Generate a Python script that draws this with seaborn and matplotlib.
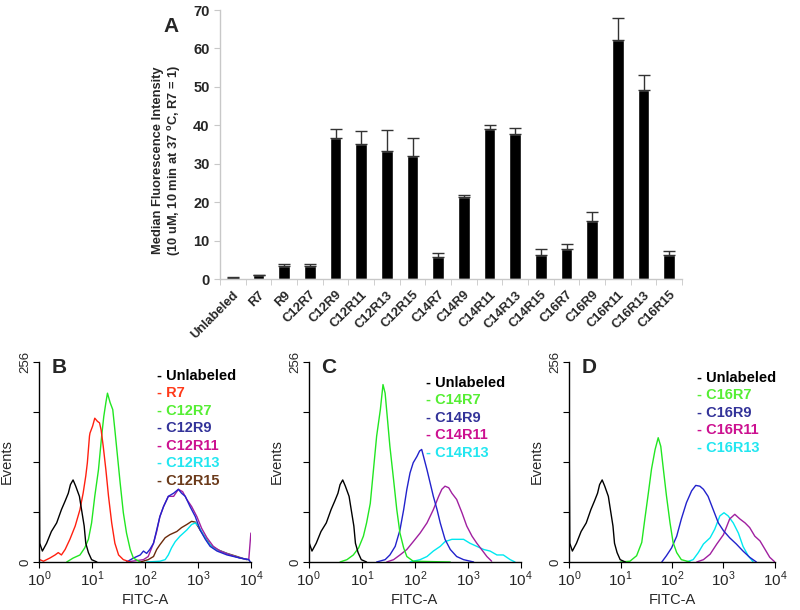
"""
Peptide uptake: median fluorescence bars (A) and flow cytometry histograms (B-D)
"""

import numpy as np
import pandas as pd
import matplotlib

matplotlib.use("Agg")
import matplotlib.pyplot as plt
import matplotlib.ticker as mticker
import seaborn as sns

# ---- panel A data ----
peptides = ['Unlabeled', 'R7', 'R9', 'C12R7', 'C12R9', 'C12R11', 'C12R13', 'C12R15',
            'C14R7', 'C14R9', 'C14R11', 'C14R13', 'C14R15', 'C16R7', 'C16R9',
            'C16R11', 'C16R13', 'C16R15']
mfi = [0.3, 1.0, 3.3, 3.3, 36.7, 35.2, 33.4, 32.0, 5.8, 21.3, 39.1, 37.7, 6.3, 7.8,
       15.0, 62.3, 49.1, 6.3]
mfi_err = [0.1, 0.1, 0.5, 0.5, 2.3, 3.4, 5.4, 4.7, 0.9, 0.5, 0.9, 1.6, 1.4, 1.4,
           2.4, 5.7, 4.1, 1.1]

# ---- histogram data: log10(FITC-A) and event counts ----
unl_log = [0.0, 0.0, 0.01, 0.06, 0.14, 0.23, 0.33, 0.42, 0.49, 0.55, 0.59, 0.64, 0.69,
           0.76, 0.80, 0.85, 0.88, 0.93, 0.99, 1.09]
unl_cnt = [0, 137, 24, 14, 24, 39, 50, 67, 78, 88, 99, 105, 97, 84, 67, 46, 24, 12, 3, 0]

b_r7_log = [0.01, 0.08, 0.20, 0.30, 0.36, 0.42, 0.49, 0.58, 0.68, 0.77, 0.83, 0.88, 0.91,
            0.95, 0.96, 1.01, 1.05, 1.10, 1.14, 1.17, 1.21, 1.26, 1.31, 1.37, 1.43, 1.50,
            1.59, 1.72]
b_r7_cnt = [3, 1, 5, 9, 12, 9, 16, 29, 46, 67, 88, 110, 127, 161, 165, 174, 184, 180, 178,
            169, 148, 118, 84, 50, 24, 9, 3, 0]
b_c12r7_log = [0.52, 0.64, 0.77, 0.86, 0.93, 0.99, 1.05, 1.12, 1.18, 1.22, 1.26, 1.29, 1.34,
               1.39, 1.43, 1.48, 1.53, 1.59, 1.65, 1.72, 1.78, 1.91]
b_c12r7_cnt = [0, 5, 9, 18, 29, 50, 84, 118, 161, 186, 204, 216, 204, 195, 169, 135, 101,
               63, 37, 16, 5, 0]
b_c12r9_log = [1.65, 1.78, 1.91, 1.97, 2.03, 2.09, 2.16, 2.22, 2.28, 2.35, 2.44, 2.54, 2.63,
               2.69, 2.76, 2.85, 2.95, 3.04, 3.14, 3.23, 3.36, 3.55, 3.80, 3.96, 3.99]
b_c12r9_cnt = [0, 5, 9, 14, 11, 16, 24, 41, 58, 71, 84, 88, 93, 88, 84, 71, 58, 41, 29, 20,
               14, 9, 5, 3, 0]
b_c12r11_log = [1.65, 1.97, 2.06, 2.16, 2.22, 2.28, 2.35, 2.44, 2.54, 2.63, 2.71, 2.79, 2.88,
                2.98, 3.07, 3.17, 3.29, 3.42, 3.61, 3.80, 3.96, 4.0]
b_c12r11_cnt = [0, 3, 7, 24, 39, 58, 71, 84, 84, 93, 90, 80, 71, 58, 43, 31, 20, 14, 9, 5,
                3, 37]
b_c12r13_log = [2.03, 2.28, 2.38, 2.44, 2.50, 2.57, 2.66, 2.79, 2.88, 2.95, 3.01, 3.10, 3.20,
                3.29, 3.42, 3.61, 3.80, 3.96]
b_c12r13_cnt = [0, 1, 3, 9, 18, 26, 33, 41, 48, 50, 46, 35, 24, 18, 14, 9, 5, 3]
b_c12r15_log = [1.91, 2.06, 2.16, 2.22, 2.28, 2.38, 2.47, 2.60, 2.69, 2.79, 2.88, 2.95, 3.04,
                3.14, 3.23, 3.36, 3.55, 3.74, 3.92]
b_c12r15_cnt = [0, 3, 7, 16, 22, 31, 35, 39, 44, 48, 52, 51, 41, 31, 22, 16, 11, 7, 3]

c_c14r7_log = [0.59, 0.72, 0.84, 0.94, 1.03, 1.09, 1.16, 1.22, 1.28, 1.35, 1.40, 1.44, 1.48,
               1.53, 1.60, 1.66, 1.72, 1.79, 1.85, 1.97, 2.67]
c_c14r7_cnt = [0, 3, 9, 18, 33, 50, 75, 118, 161, 195, 227, 216, 186, 148, 105, 67, 37, 18,
               7, 1, 0]
c_c14r9_log = [1.28, 1.44, 1.53, 1.63, 1.72, 1.79, 1.85, 1.91, 1.97, 2.04, 2.09, 2.13, 2.18,
               2.23, 2.29, 2.35, 2.42, 2.48, 2.57, 2.67, 2.79, 2.92, 3.11]
c_c14r9_cnt = [0, 3, 9, 20, 41, 67, 93, 114, 127, 135, 142, 144, 131, 118, 101, 84, 67, 50,
               29, 16, 7, 3, 0]
c_c14r11_log = [1.47, 1.60, 1.72, 1.85, 1.97, 2.10, 2.23, 2.35, 2.45, 2.51, 2.57, 2.64, 2.70,
                2.79, 2.89, 2.98, 3.08, 3.17, 3.26, 3.36, 3.45]
c_c14r11_cnt = [0, 3, 9, 16, 26, 37, 50, 67, 84, 93, 97, 95, 88, 80, 63, 46, 33, 24, 16, 7, 1]
c_c14r13_log = [1.91, 2.10, 2.23, 2.35, 2.48, 2.57, 2.70, 2.79, 2.92, 3.04, 3.17, 3.30, 3.42,
                3.55, 3.67, 3.80, 3.89]
c_c14r13_cnt = [0, 3, 7, 14, 20, 26, 29, 29, 29, 24, 20, 16, 14, 9, 9, 3, 0]

d_c16r7_log = [0.99, 1.18, 1.31, 1.41, 1.47, 1.54, 1.60, 1.67, 1.73, 1.78, 1.83, 1.89, 1.96,
               2.02, 2.09, 2.18, 2.35]
d_c16r7_cnt = [0, 1, 8, 25, 55, 89, 119, 144, 159, 148, 119, 85, 50, 25, 12, 3, 0]
d_c16r9_log = [1.80, 1.89, 1.99, 2.09, 2.18, 2.28, 2.38, 2.46, 2.54, 2.61, 2.70, 2.80, 2.90,
               3.00, 3.12, 3.25, 3.38, 3.51, 3.64]
d_c16r9_cnt = [0, 8, 18, 33, 55, 76, 91, 98, 97, 93, 84, 67, 50, 40, 31, 23, 14, 6, 0]
d_c16r11_log = [2.48, 2.61, 2.74, 2.87, 3.00, 3.12, 3.22, 3.32, 3.42, 3.51, 3.61, 3.71, 3.81,
                3.90, 4.0]
d_c16r11_cnt = [0, 3, 10, 23, 35, 55, 61, 55, 50, 44, 33, 27, 16, 6, 0]
d_c16r13_log = [2.28, 2.41, 2.51, 2.61, 2.74, 2.83, 2.93, 3.01, 3.09, 3.19, 3.29, 3.38, 3.48,
                3.58]
d_c16r13_cnt = [0, 3, 12, 23, 31, 42, 59, 63, 59, 50, 37, 20, 8, 0]

# curve colours / legend text colours
CURVE = {'Unlabeled': '#000000', 'R7': '#ff2010', 'R7c': '#22e622', 'R9': '#2222cc',
         'R11': '#a020a0', 'R13': '#00e8f0', 'R15': '#6b2a0a'}
TEXT = {'Unlabeled': '#000000', 'R7': '#ff3a1a', 'R7c': '#55ee33', 'R9': '#333399',
        'R11': '#cc1190', 'R13': '#22e6f0', 'R15': '#6b3a1a'}

sns.set_style("white")
plt.rcParams['font.family'] = ['Liberation Sans', 'DejaVu Sans']
plt.rcParams['mathtext.fontset'] = 'custom'
plt.rcParams['mathtext.rm'] = 'Liberation Sans'
plt.rcParams['mathtext.bf'] = 'Liberation Sans:bold'

fig = plt.figure(figsize=(8, 6.1), dpi=100)

# ---------------- panel A ----------------
axA = fig.add_axes([0.275, 0.5426, 0.5775, 0.441])
dfA = pd.DataFrame({'peptide': peptides, 'mfi': mfi})
sns.barplot(data=dfA, x='peptide', y='mfi', color='black', width=0.45,
            errorbar=None, ax=axA, saturation=1)
pos = np.arange(len(peptides))
axA.errorbar(pos, mfi, yerr=[np.zeros(len(mfi)), mfi_err], fmt='none',
             ecolor='#333333', elinewidth=1, capsize=4, capthick=1)
axA.set_ylim(0, 70)
axA.set_xlim(-0.5, len(peptides) - 0.5)
axA.set_yticks(range(0, 71, 10))
axA.set_yticklabels([str(v) for v in range(0, 71, 10)], fontweight='bold', fontsize=10.5)
axA.set_xticks(pos)
axA.set_xticklabels(peptides, rotation=45, ha='right', rotation_mode='anchor',
                    fontweight='bold', fontsize=9.3)
axA.xaxis.set_minor_locator(mticker.FixedLocator(np.arange(-0.5, len(peptides), 1)))
axA.tick_params(axis='x', which='major', length=0, pad=7)
axA.tick_params(axis='x', which='minor', length=4, color='#c8c8c8', direction='out',
                bottom=True)
axA.tick_params(axis='y', length=4, color='#c8c8c8', direction='out', left=True)
for s in ['top', 'right']:
    axA.spines[s].set_visible(False)
for s in ['left', 'bottom']:
    axA.spines[s].set_color('#c8c8c8')
    axA.spines[s].set_linewidth(1)
axA.set_xlabel('')
axA.set_ylabel('Median Fluorescence Intensity\n(10 uM, 10 min at 37 $^{\\mathbf{o}}$C, R7 = 1)',
               fontweight='bold', fontsize=9.3, labelpad=8)
axA.yaxis.set_label_coords(-0.08, 0.44)
fig.text(163 / 800, 1 - 27 / 610, 'A', fontsize=15, fontweight='bold', va='center')

# ---------------- panels B-D ----------------
panels = [
    ('B', [0.049, 0.0787, 0.2646, 0.328], (0.556, 0.93),
     [('Unlabeled', 'Unlabeled', unl_log, unl_cnt),
      ('R7', 'R7', b_r7_log, b_r7_cnt),
      ('C12R7', 'R7c', b_c12r7_log, b_c12r7_cnt),
      ('C12R9', 'R9', b_c12r9_log, b_c12r9_cnt),
      ('C12R11', 'R11', b_c12r11_log, b_c12r11_cnt),
      ('C12R13', 'R13', b_c12r13_log, b_c12r13_cnt),
      ('C12R15', 'R15', b_c12r15_log, b_c12r15_cnt)]),
    ('C', [0.386, 0.0787, 0.265, 0.328], (0.553, 0.895),
     [('Unlabeled', 'Unlabeled', unl_log, unl_cnt),
      ('C14R7', 'R7c', c_c14r7_log, c_c14r7_cnt),
      ('C14R9', 'R9', c_c14r9_log, c_c14r9_cnt),
      ('C14R11', 'R11', c_c14r11_log, c_c14r11_cnt),
      ('C14R13', 'R13', c_c14r13_log, c_c14r13_cnt)]),
    ('D', [0.7116, 0.0787, 0.257, 0.328], (0.62, 0.92),
     [('Unlabeled', 'Unlabeled', unl_log, unl_cnt),
      ('C16R7', 'R7c', d_c16r7_log, d_c16r7_cnt),
      ('C16R9', 'R9', d_c16r9_log, d_c16r9_cnt),
      ('C16R11', 'R11', d_c16r11_log, d_c16r11_cnt),
      ('C16R13', 'R13', d_c16r13_log, d_c16r13_cnt)]),
]

for letter, rect, (lx, ly), curves in panels:
    ax = fig.add_axes(rect)
    # draw in reverse so that the unlabeled curve sits on top like the original
    for name, key, logs, counts in curves[::-1]:
        sns.lineplot(x=10 ** np.array(logs), y=counts, sort=False, estimator=None,
                     color=CURVE[key], linewidth=1.0, ax=ax)
    ax.set_xscale('log')
    ax.set_xlim(1, 1e4)
    ax.set_ylim(0, 256)
    ax.set_xticks([1, 10, 100, 1000, 10000])
    ax.set_xticklabels(['$10^{0}$', '$10^{1}$', '$10^{2}$', '$10^{3}$', '$10^{4}$'],
                       fontsize=11)
    ax.xaxis.set_minor_locator(mticker.NullLocator())
    ax.set_yticks([0, 64, 128, 192, 256])
    ax.set_yticklabels(['0', '', '', '', '256'], rotation=90, va='center', fontsize=9.5)
    ax.tick_params(axis='both', length=4, width=0.8, color='black', direction='out',
                   left=True, bottom=True, pad=1.5)
    for s in ['top', 'right']:
        ax.spines[s].set_visible(False)
    for s in ['left', 'bottom']:
        ax.spines[s].set_color('black')
        ax.spines[s].set_linewidth(1)
    ax.set_xlabel('FITC-A', fontsize=10.5, labelpad=3)
    ax.set_ylabel('Events', fontsize=10.5, labelpad=4)
    ax.text(0.06, 0.97, letter, transform=ax.transAxes, fontsize=15,
            fontweight='bold', va='center', ha='left')
    for i, (name, key, logs, counts) in enumerate(curves):
        ax.text(lx, ly - i * 0.0875, '- ' + name, transform=ax.transAxes,
                color=TEXT[key], fontsize=10.5, fontweight='bold', va='center')

fig.savefig('out.png', dpi=100)
